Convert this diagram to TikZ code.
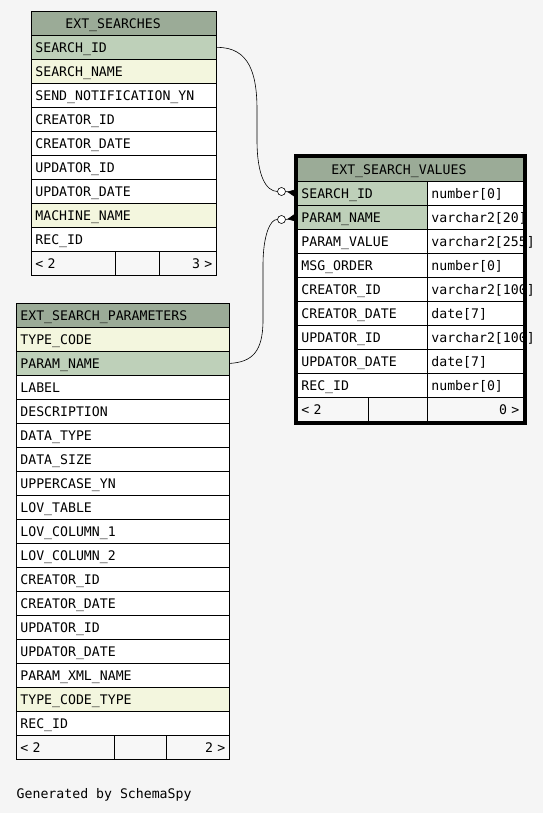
\documentclass[tikz,border=0pt]{standalone}
\usepackage{fontspec}
\setmonofont{DejaVu Sans Mono}
\usetikzlibrary{positioning, arrows.meta, fit}

\definecolor{paper}{RGB}{245,245,245}
\definecolor{headgreen}{RGB}{155,171,151}
\definecolor{keygreen}{RGB}{190,208,185}
\definecolor{idxyellow}{RGB}{243,246,222}
\definecolor{footgray}{RGB}{247,247,247}

\begin{document}
\begin{tikzpicture}[x=1pt, y=-1pt,
    cell/.style={rectangle, draw, line width=0.8pt, fill=white, anchor=north west,
      minimum height=24pt, inner xsep=4pt, inner ysep=0pt, align=left,
      text height=9.6pt, text depth=0pt, font=\ttfamily\fontsize{13.2}{15}\selectfont},
    head/.style={cell, fill=headgreen},
    pk/.style={cell, fill=keygreen},
    idx/.style={cell, fill=idxyellow},
    foot/.style={cell, fill=footgray},
    note/.style={anchor=west, inner sep=0pt, text height=9.6pt, text depth=0pt,
      font=\ttfamily\fontsize{13.2}{15}\selectfont},
    dot/.style={circle, draw, line width=0.6pt, fill=white, minimum size=8pt, inner sep=0pt},
    rel/.style={line width=0.6pt},
    crow/.style={line width=0.6pt, -{Triangle[reversed, length=10pt, width=9pt]}}]

  \path[use as bounding box, fill=paper] (0,0) rectangle (543,813);

  % EXT_SEARCHES
  \node[head, text width=177pt] (es) at (31,11) {\hspace*{30pt}EXT\_SEARCHES};
  \foreach \txt/\sty [count=\i] in {SEARCH\_ID/pk, SEARCH\_NAME/idx,
      SEND\_NOTIFICATION\_YN/cell, CREATOR\_ID/cell, CREATOR\_DATE/cell,
      UPDATOR\_ID/cell, UPDATOR\_DATE/cell, MACHINE\_NAME/idx, REC\_ID/cell}
    \node[\sty, text width=177pt] (es-\i) at (31,11+24*\i) {\txt};
  \node[foot, text width=76pt] (es-f1) at (31,251) {< 2};
  \node[foot, text width=36pt] (es-f2) at (115,251) {};
  \node[foot, text width=49pt, align=right] (es-f3) at (159,251) {3 >};

  % EXT_SEARCH_PARAMETERS
  \node[head, text width=205pt] (ep) at (16,303) {EXT\_SEARCH\_PARAMETERS};
  \foreach \txt/\sty [count=\i] in {TYPE\_CODE/idx, PARAM\_NAME/pk, LABEL/cell,
      DESCRIPTION/cell, DATA\_TYPE/cell, DATA\_SIZE/cell, UPPERCASE\_YN/cell,
      LOV\_TABLE/cell, LOV\_COLUMN\_1/cell, LOV\_COLUMN\_2/cell, CREATOR\_ID/cell,
      CREATOR\_DATE/cell, UPDATOR\_ID/cell, UPDATOR\_DATE/cell,
      PARAM\_XML\_NAME/cell, TYPE\_CODE\_TYPE/idx, REC\_ID/cell}
    \node[\sty, text width=205pt] (ep-\i) at (16,303+24*\i) {\txt};
  \node[foot, text width=90pt] (ep-f1) at (16,735) {< 2};
  \node[foot, text width=44pt] (ep-f2) at (114,735) {};
  \node[foot, text width=55pt, align=right] (ep-f3) at (166,735) {2 >};

  % EXT_SEARCH_VALUES
  \node[head, text width=218pt] (esv) at (297,157) {\hspace*{30pt}EXT\_SEARCH\_VALUES};
  \foreach \txt/\typ/\sty [count=\i] in {SEARCH\_ID/number[0]/pk,
      PARAM\_NAME/varchar2[20]/pk, PARAM\_VALUE/varchar2[255]/cell,
      MSG\_ORDER/number[0]/cell, CREATOR\_ID/varchar2[100]/cell,
      CREATOR\_DATE/date[7]/cell, UPDATOR\_ID/varchar2[100]/cell,
      UPDATOR\_DATE/date[7]/cell, REC\_ID/number[0]/cell} {
    \node[\sty, text width=122pt] (esv-\i) at (297,157+24*\i) {\txt};
    \node[cell, text width=88pt] (esvt-\i) at (427,157+24*\i) {\typ};
  }
  \node[foot, text width=63pt] (esv-f1) at (297,397) {< 2};
  \node[foot, text width=51pt] (esv-f2) at (368,397) {};
  \node[foot, text width=88pt, align=right] (esv-f3) at (427,397) {0 >};
  \node[draw, line width=3pt, inner sep=1.5pt, fit=(esv)(esv-f3)] (esvframe) {};

  % relations
  \node[dot] (o1) at (281.5,191.5) {};
  \node[dot] (o2) at (281.5,219.5) {};
  \draw[rel] (es-1.east) .. controls (250,47) and (257,75) .. (257,110) -- (257,140)
    .. controls (257,176) and (266,191) .. (o1.west);
  \draw[rel] (ep-2.east) .. controls (252,362) and (263,352) .. (263,320) -- (263,265)
    .. controls (263,236) and (270,219) .. (o2.west);
  \draw[crow] (o1.east) -- (esv-1.west);
  \draw[crow] (o2.east) -- (esv-2.west);

  \node[note] (gen) at (16.5,794) {Generated by SchemaSpy};
\end{tikzpicture}
\end{document}
